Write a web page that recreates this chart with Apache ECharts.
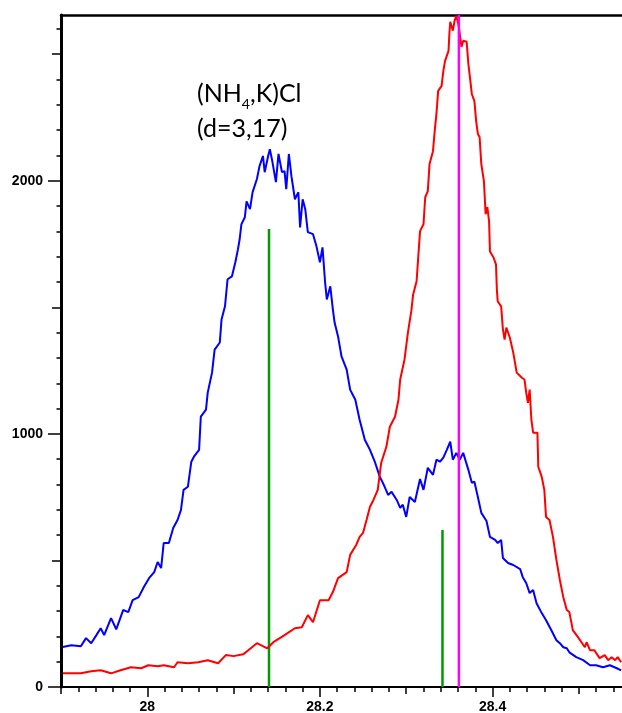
<!DOCTYPE html>
<html>
<head>
<meta charset="utf-8">
<script src="https://cdn.jsdelivr.net/npm/echarts@6/dist/echarts.min.js"></script>
<style>
  html, body { margin: 0; padding: 0; background: #fff; }
  #chart { width: 622px; height: 713px; }
</style>
</head>
<body>
<div id="chart"></div>
<script>
// Diffraction scan: 2-theta (deg) vs intensity (counts)
const xMin = 27.9, xMax = 28.55;
const yMin = 0, yMax = 2655;

// x-axis ticks
const xMajorTicks = [28, 28.2, 28.4];
const xMidTicks = [27.9, 28.1, 28.3, 28.5];
const xMinorTicks = [27.92, 27.94, 27.96, 27.98, 28, 28.02, 28.04, 28.06, 28.08, 28.1,
  28.12, 28.14, 28.16, 28.18, 28.2, 28.22, 28.24, 28.26, 28.28, 28.3,
  28.32, 28.34, 28.36, 28.38, 28.4, 28.42, 28.44, 28.46, 28.48, 28.5, 28.52, 28.54];

// y-axis ticks
const yMajorTicks = [0, 1000, 2000];
const yMidTicks = [500, 1500, 2500];
const yMinorTicks = [0, 100, 200, 300, 400, 500, 600, 700, 800, 900, 1000, 1100, 1200, 1300,
  1400, 1500, 1600, 1700, 1800, 1900, 2000, 2100, 2200, 2300, 2400, 2500, 2600];

// Sample A (blue)
const blueX = [27.902, 27.912, 27.923, 27.929, 27.935, 27.941, 27.946, 27.950, 27.958, 27.964,
  27.972, 27.978, 27.983, 27.990, 27.996, 28.002, 28.008, 28.012, 28.016, 28.019,
  28.025, 28.030, 28.035, 28.039, 28.042, 28.047, 28.051, 28.054, 28.060, 28.062,
  28.068, 28.070, 28.075, 28.078, 28.084, 28.086, 28.090, 28.093, 28.098, 28.102,
  28.105, 28.107, 28.109, 28.113, 28.115, 28.119, 28.122, 28.127, 28.130, 28.134,
  28.136, 28.140, 28.142, 28.145, 28.149, 28.152, 28.156, 28.159, 28.161, 28.164,
  28.167, 28.171, 28.175, 28.177, 28.180, 28.183, 28.186, 28.192, 28.196, 28.200,
  28.203, 28.206, 28.208, 28.212, 28.215, 28.217, 28.221, 28.225, 28.231, 28.235,
  28.241, 28.246, 28.252, 28.258, 28.264, 28.269, 28.275, 28.279, 28.283, 28.289,
  28.293, 28.296, 28.300, 28.304, 28.310, 28.316, 28.320, 28.325, 28.331, 28.335,
  28.339, 28.343, 28.347, 28.351, 28.354, 28.358, 28.362, 28.366, 28.372, 28.376,
  28.379, 28.383, 28.387, 28.393, 28.397, 28.403, 28.406, 28.410, 28.412, 28.418,
  28.424, 28.432, 28.435, 28.439, 28.443, 28.447, 28.451, 28.457, 28.462, 28.468,
  28.474, 28.478, 28.482, 28.486, 28.489, 28.497, 28.505, 28.513, 28.520, 28.528,
  28.536, 28.544, 28.549];
const blueY = [158, 165, 161, 193, 173, 205, 232, 205, 272, 228,
  304, 296, 343, 355, 395, 430, 454, 494, 470, 569,
  569, 628, 660, 700, 779, 791, 890, 910, 937, 1068,
  1096, 1163, 1242, 1333, 1361, 1452, 1504, 1611, 1622, 1678,
  1729, 1769, 1828, 1856, 1919, 1888, 1955, 2007, 2058, 2098,
  2034, 2098, 2125, 2074, 1995, 2106, 2034, 2038, 1967, 2106,
  2018, 1927, 1955, 1816, 1927, 1888, 1797, 1789, 1741, 1678,
  1737, 1599, 1531, 1583, 1492, 1440, 1385, 1306, 1254, 1175,
  1135, 1056, 977, 937, 886, 834, 791, 759, 771, 739,
  708, 720, 672, 751, 731, 822, 779, 866, 838, 898,
  890, 906, 937, 969, 898, 925, 898, 925, 858, 807,
  811, 751, 688, 656, 593, 581, 569, 581, 510, 490,
  482, 466, 434, 411, 371, 383, 331, 292, 264, 225,
  185, 173, 157, 153, 137, 118, 106, 86, 86, 78,
  86, 74, 66];

// Sample B (red)
const redX = [27.902, 27.915, 27.923, 27.935, 27.946, 27.958, 27.969, 27.981, 27.993, 28.001,
  28.012, 28.019, 28.031, 28.035, 28.047, 28.059, 28.070, 28.082, 28.091, 28.100,
  28.111, 28.117, 28.127, 28.139, 28.146, 28.159, 28.171, 28.179, 28.186, 28.192,
  28.200, 28.210, 28.215, 28.221, 28.231, 28.235, 28.242, 28.246, 28.250, 28.254,
  28.258, 28.262, 28.267, 28.271, 28.277, 28.281, 28.287, 28.291, 28.293, 28.298,
  28.302, 28.306, 28.308, 28.312, 28.316, 28.320, 28.322, 28.325, 28.327, 28.331,
  28.333, 28.335, 28.337, 28.341, 28.343, 28.345, 28.349, 28.350, 28.351, 28.354,
  28.356, 28.358, 28.361, 28.364, 28.366, 28.370, 28.372, 28.376, 28.379, 28.381,
  28.383, 28.385, 28.387, 28.390, 28.392, 28.394, 28.396, 28.397, 28.401, 28.404,
  28.405, 28.406, 28.410, 28.412, 28.414, 28.416, 28.420, 28.424, 28.428, 28.434,
  28.437, 28.439, 28.441, 28.443, 28.445, 28.447, 28.452, 28.453, 28.457, 28.460,
  28.462, 28.466, 28.470, 28.474, 28.478, 28.482, 28.486, 28.489, 28.493, 28.499,
  28.503, 28.507, 28.509, 28.513, 28.518, 28.524, 28.530, 28.534, 28.538, 28.542,
  28.545, 28.549];
const redY = [54, 54, 54, 62, 66, 54, 66, 78, 74, 86,
  82, 86, 78, 98, 94, 98, 106, 94, 126, 122,
  129, 145, 173, 153, 177, 205, 232, 236, 284, 256,
  343, 343, 375, 430, 454, 522, 561, 593, 609, 660,
  712, 739, 779, 886, 949, 1028, 1068, 1135, 1215, 1294,
  1401, 1488, 1551, 1603, 1801, 1828, 1935, 1959, 2066, 2117,
  2197, 2264, 2355, 2375, 2434, 2474, 2513, 2581, 2628, 2593,
  2632, 2652, 2608, 2529, 2553, 2549, 2462, 2343, 2315, 2236,
  2185, 2173, 2066, 1999, 1868, 1896, 1840, 1721, 1698, 1670,
  1571, 1523, 1504, 1413, 1373, 1420, 1381, 1321, 1242, 1222,
  1215, 1163, 1123, 1175, 1056, 1005, 1005, 870, 830, 779,
  672, 660, 593, 502, 423, 355, 304, 296, 225, 197,
  177, 157, 177, 145, 145, 114, 126, 106, 118, 106,
  118, 98];

// Reference reflections (position, relative height)
const stickX = [28.141, 28.342];
const stickH = [1810, 620];
const refLineX = 28.361;

const zip = (xs, ys) => xs.map((x, i) => [x, ys[i]]);

const labelFont = {
  fontFamily: 'Liberation Sans', fontSize: 14, fontWeight: 'bold', color: '#000',
  formatter: v => String(+(+v).toFixed(4))
};

function xAxisLayer(ticks, len, withLine, withLabel) {
  return {
    type: 'value', min: xMin, max: xMax, position: 'bottom',
    axisLine: { show: withLine, onZero: false, lineStyle: { color: '#000', width: 2 } },
    axisTick: { show: true, customValues: ticks, length: len, lineStyle: { color: '#000', width: 1.5 } },
    axisLabel: withLabel ? Object.assign({ show: true, customValues: ticks, margin: 13 }, labelFont) : { show: false },
    splitLine: { show: false }
  };
}
function yAxisLayer(ticks, len, withLine, withLabel) {
  return {
    type: 'value', min: yMin, max: yMax, position: 'left',
    axisLine: { show: withLine, onZero: false, lineStyle: { color: '#000', width: 3 } },
    axisTick: { show: true, customValues: ticks, length: len, lineStyle: { color: '#000', width: 1.5 } },
    axisLabel: withLabel ? Object.assign({ show: true, customValues: ticks, margin: 18 }, labelFont) : { show: false },
    splitLine: { show: false }
  };
}

const stickSeries = stickX.map((x, i) => ({
  type: 'line', xAxisIndex: 0, yAxisIndex: 0, symbol: 'none', z: 3,
  lineStyle: { color: '#009a00', width: 2.5 },
  data: [[x, 0], [x, stickH[i]]]
}));

const chart = echarts.init(document.getElementById('chart'), null, { renderer: 'canvas' });
chart.setOption({
  animation: false,
  backgroundColor: '#fff',
  grid: { left: 61, right: 0, top: 15, bottom: 26, containLabel: false, outerBoundsMode: 'none' },
  xAxis: [
    xAxisLayer(xMinorTicks, 5, true, false),
    xAxisLayer(xMidTicks, 7, false, false),
    xAxisLayer(xMajorTicks, 10, false, true),
    {
      type: 'value', min: xMin, max: xMax, position: 'top',
      axisLine: { show: true, onZero: false, lineStyle: { color: '#000', width: 2.5 } },
      axisTick: { show: false }, axisLabel: { show: false }, splitLine: { show: false }
    }
  ],
  yAxis: [
    yAxisLayer(yMinorTicks, 4.5, true, false),
    yAxisLayer(yMidTicks, 9, false, false),
    yAxisLayer(yMajorTicks, 13, false, true)
  ],
  series: [
    {
      type: 'line', xAxisIndex: 0, yAxisIndex: 0, symbol: 'none', z: 4,
      lineStyle: { color: '#0000ff', width: 2 },
      data: zip(blueX, blueY)
    },
    {
      type: 'line', xAxisIndex: 0, yAxisIndex: 0, symbol: 'none', z: 5,
      lineStyle: { color: '#ff0000', width: 2 },
      data: zip(redX, redY)
    },
    ...stickSeries,
    {
      type: 'line', xAxisIndex: 0, yAxisIndex: 0, symbol: 'none', z: 6,
      lineStyle: { color: '#ff00ff', width: 2.5 },
      data: [[refLineX, yMin], [refLineX, yMax]]
    }
  ],
  graphic: [
    {
      type: 'text', left: 197, top: 81, z: 10,
      style: {
        text: '{a|(NH}{s|4}{a|,K)Cl}\n{a|(d=3,17)}',
        fill: '#000',
        rich: {
          a: { fontFamily: 'Lato', fontSize: 25, lineHeight: 35, fill: '#000' },
          s: { fontFamily: 'Lato', fontSize: 14, lineHeight: 29, verticalAlign: 'bottom', fill: '#000' }
        }
      }
    }
  ]
});
</script>
</body>
</html>
